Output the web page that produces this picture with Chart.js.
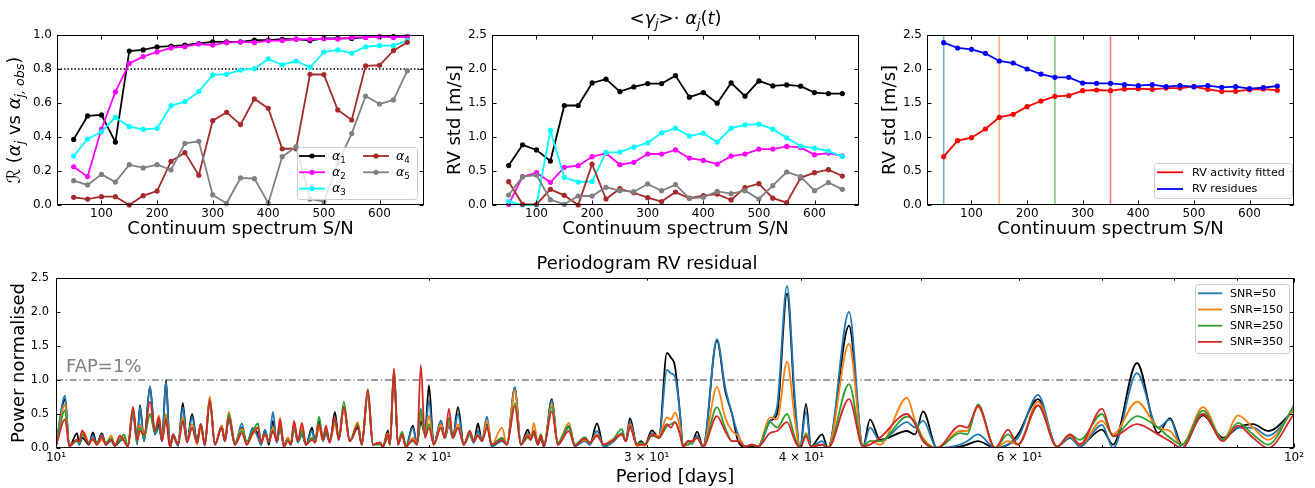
<!DOCTYPE html>
<html><head><meta charset="utf-8">
<script src="https://cdn.jsdelivr.net/npm/chart.js@4.4.1/dist/chart.umd.min.js"></script>
<style>
html,body{margin:0;padding:0;background:#fff;}
body{width:1315px;height:488px;position:relative;overflow:hidden;}
canvas{position:absolute;}
</style></head><body>
<canvas id="c1" width="440" height="250" style="left:0;top:0"></canvas>
<canvas id="c2" width="440" height="250" style="left:440px;top:0"></canvas>
<canvas id="c3" width="440" height="250" style="left:875px;top:0"></canvas>
<canvas id="c4" width="1315" height="238" style="left:0;top:250px"></canvas>
<script>
// ---------------- data ----------------
const snr = [50,75,100,125,150,175,200,225,250,275,300,325,350,375,400,425,450,475,500,525,550,575,600,625,650];
const snTicks = [100,200,300,400,500,600];
const corrTicks = [0,0.2,0.4,0.6,0.8,1.0];
const rvTicks = [0,0.5,1.0,1.5,2.0,2.5];
const corrThreshold = 0.8;

const corrAlpha1 = [0.386,0.524,0.53,0.37,0.906,0.912,0.93,0.935,0.94,0.95,0.96,0.96,0.96,0.97,0.97,0.975,0.976,0.967,0.98,0.98,0.98,0.986,0.99,0.99,0.99];
const corrAlpha2 = [0.225,0.167,0.447,0.665,0.833,0.873,0.9,0.924,0.931,0.947,0.941,0.955,0.96,0.955,0.967,0.967,0.975,0.975,0.978,0.976,0.986,0.986,0.99,0.986,0.99];
const corrAlpha3 = [0.288,0.388,0.431,0.516,0.461,0.445,0.451,0.584,0.608,0.667,0.765,0.769,0.794,0.802,0.859,0.825,0.847,0.81,0.9,0.912,0.892,0.931,0.937,0.937,0.967];
const corrAlpha4 = [0.045,0.035,0.049,0.049,0.0,0.055,0.082,0.257,0.308,0.175,0.496,0.545,0.473,0.624,0.569,0.331,0.331,0.769,0.767,0.559,0.5,0.818,0.822,0.908,0.957];
const corrAlpha5 = [0.143,0.118,0.18,0.135,0.237,0.218,0.237,0.206,0.363,0.375,0.059,0.01,0.159,0.155,0.01,0.284,0.343,0.035,0.02,0.245,0.42,0.641,0.594,0.618,0.79];

const stdAlpha1 = [0.58,0.885,0.81,0.646,1.463,1.463,1.795,1.85,1.668,1.737,1.786,1.786,1.903,1.585,1.654,1.497,1.795,1.6,1.825,1.751,1.766,1.747,1.654,1.639,1.639];
const stdAlpha2 = [0.01,0.417,0.475,0.333,0.554,0.578,0.71,0.76,0.593,0.627,0.75,0.75,0.81,0.69,0.656,0.602,0.719,0.749,0.822,0.822,0.861,0.846,0.739,0.763,0.724];
const stdAlpha3 = [0.054,0.0,0.0,1.096,0.406,0.338,0.347,0.773,0.778,0.851,0.915,1.062,1.13,1.013,1.057,0.925,1.13,1.179,1.189,1.115,0.988,0.866,0.837,0.793,0.714];
const stdAlpha4 = [0.343,0.01,0.01,0.23,0.142,0.0,0.6,0.088,0.24,0.18,0.108,0.05,0.19,0.1,0.137,0.16,0.074,0.255,0.314,0.1,0.034,0.4,0.475,0.52,0.426];
const stdAlpha5 = [0.147,0.417,0.44,0.078,0.01,0.132,0.132,0.26,0.21,0.196,0.31,0.21,0.3,0.098,0.113,0.2,0.167,0.21,0.088,0.284,0.485,0.417,0.21,0.33,0.23];

const rvActivityFitted = [0.711,0.946,0.99,1.118,1.289,1.333,1.446,1.529,1.598,1.608,1.681,1.691,1.681,1.706,1.711,1.701,1.72,1.72,1.74,1.701,1.672,1.672,1.696,1.706,1.686];
const rvResidues = [2.387,2.309,2.289,2.23,2.118,2.088,2.0,1.926,1.877,1.877,1.794,1.789,1.789,1.77,1.755,1.77,1.74,1.755,1.74,1.755,1.73,1.74,1.711,1.725,1.75];
const snrMarkers = [50,150,250,350];
const rvAxisMax = 2.5;

const periodTicks = [10,20,30,40,50,60,70,80,90,100];
const periodTickLabels = {10:'10\u00b9',20:'2 \u00d7 10\u00b9',30:'3 \u00d7 10\u00b9',40:'4 \u00d7 10\u00b9',60:'6 \u00d7 10\u00b9',100:'10\u00b2'};
const fapLevel = 1.0;

const periods = [10.00,10.17,10.25,10.40,10.44,10.50,10.55,10.63,10.71,10.79,
10.89,10.97,11.08,11.16,11.26,11.35,11.43,11.54,11.63,11.69,
11.78,11.91,12.02,12.11,12.18,12.27,12.36,12.43,12.55,12.66,
12.76,12.88,13.00,13.09,13.19,13.31,13.44,13.61,13.69,13.79,
13.95,14.13,14.26,14.42,14.56,14.64,14.75,14.86,14.97,15.08,
15.17,15.28,15.39,15.48,15.57,15.68,15.80,15.92,16.10,16.19,
16.31,16.43,16.52,16.64,16.80,16.92,17.08,17.27,17.53,17.66,
17.86,18.03,18.27,18.37,18.54,18.61,18.75,18.89,19.03,19.17,
19.42,19.57,19.71,19.86,20.01,20.19,20.46,20.61,20.77,20.92,
21.12,21.35,21.59,21.75,21.92,22.08,22.29,22.49,22.92,23.13,
23.48,23.74,24.05,24.19,24.32,24.50,24.64,24.78,25.15,25.43,
25.96,26.25,26.74,26.99,27.35,27.70,28.12,28.65,28.86,29.08,
29.46,29.68,29.90,30.29,30.69,31.15,31.38,31.62,31.92,32.10,
32.40,32.64,32.95,33.32,34.19,34.71,35.16,35.56,36.02,36.49,
36.90,37.74,38.23,38.95,39.53,39.90,40.35,40.73,41.57,42.03,
43.71,44.86,45.45,46.31,48.69,49.42,50.16,51.48,53.74,54.44,
55.56,57.35,58.75,59.85,62.12,64.35,65.93,67.16,69.97,71.42,
74.67,77.65,79.40,81.20,84.43,87.63,90.11,92.66,95.28,100.0];

const powerReference = [0.03,0.72,0.02,0.22,0.05,0.15,0.12,0.05,0.23,0.06,
0.22,0.05,0.12,0.03,0.1,0.15,0.02,0.55,0.08,0.63,
0.1,0.9,0.2,0.35,0.1,1.0,0.0,0.2,0.05,0.66,
0.1,0.5,0.1,0.35,0.05,0.72,0.05,0.33,0.1,0.45,
0.05,0.3,0.05,0.28,0.2,0.05,0.26,0.05,0.4,0.08,
0.35,0.02,0.15,0.05,0.35,0.1,0.2,0.05,0.3,0.08,
0.4,0.12,0.25,0.08,0.53,0.12,0.6,0.1,0.3,0.05,
0.8,0.05,0.08,0.02,0.26,0.05,1.1,0.05,0.2,0.02,
0.33,0.05,0.4,0.2,0.92,0.05,0.4,0.15,0.35,0.15,
0.6,0.05,0.2,0.08,0.36,0.1,0.35,0.02,0.15,0.05,
0.89,0.05,0.27,0.15,0.25,0.05,0.15,0.02,0.72,0.05,
0.32,0.03,0.12,0.05,0.36,0.02,0.08,0.2,0.1,0.44,
0.05,0.1,0.05,0.26,0.15,1.4,1.33,1.2,0.5,0.02,
0.1,0.08,0.24,0.02,1.58,0.85,0.5,0.1,0.02,0.03,
0.0,0.4,0.5,2.27,0.6,0.0,0.65,0.02,0.2,0.0,
1.8,0.02,0.42,0.12,0.25,0.2,0.54,0.0,0.02,0.05,
0.1,0.0,0.05,0.2,0.72,0.02,0.15,0.05,0.27,0.05,
1.25,0.22,0.44,0.05,0.48,0.15,0.3,0.35,0.25,0.55];

const powerSnr50 = [0.03,0.77,0.02,0.12,0.05,0.2,0.15,0.08,0.18,0.05,
0.2,0.05,0.1,0.03,0.12,0.12,0.02,0.5,0.05,0.6,
0.1,0.91,0.2,0.3,0.1,0.98,0.0,0.18,0.03,0.6,
0.1,0.45,0.1,0.33,0.03,0.74,0.05,0.3,0.1,0.42,
0.05,0.36,0.05,0.3,0.15,0.05,0.27,0.08,0.53,0.08,
0.3,0.02,0.12,0.05,0.3,0.08,0.2,0.05,0.25,0.1,
0.35,0.1,0.2,0.1,0.45,0.12,0.6,0.1,0.35,0.05,
0.8,0.05,0.08,0.02,0.2,0.05,1.1,0.05,0.22,0.02,
0.3,0.05,0.58,0.2,0.7,0.05,0.4,0.15,0.35,0.15,
0.5,0.05,0.2,0.08,0.25,0.12,0.46,0.02,0.1,0.05,
0.89,0.05,0.22,0.15,0.2,0.05,0.18,0.02,0.7,0.05,
0.3,0.03,0.1,0.05,0.25,0.02,0.08,0.22,0.1,0.38,
0.05,0.08,0.05,0.22,0.15,1.15,1.1,1.05,0.5,0.02,
0.1,0.06,0.18,0.02,1.6,0.9,0.5,0.2,0.02,0.05,
0.02,0.4,0.6,2.38,0.7,0.0,0.53,0.02,0.1,0.0,
2.0,0.02,0.3,0.1,0.38,0.3,0.4,0.0,0.05,0.1,
0.2,0.0,0.05,0.15,0.78,0.02,0.15,0.02,0.34,0.0,
1.1,0.3,0.42,0.0,0.5,0.12,0.3,0.3,0.18,0.56];

const powerSnr150 = [0.03,0.64,0.03,0.12,0.08,0.24,0.22,0.08,0.12,0.05,
0.12,0.06,0.18,0.05,0.15,0.14,0.03,0.6,0.1,0.35,
0.2,0.5,0.25,0.48,0.15,0.5,0.02,0.15,0.08,0.45,
0.1,0.35,0.05,0.3,0.05,0.76,0.05,0.33,0.12,0.53,
0.08,0.28,0.08,0.2,0.3,0.08,0.2,0.1,0.3,0.1,
0.45,0.03,0.15,0.08,0.38,0.1,0.3,0.05,0.15,0.1,
0.3,0.12,0.3,0.1,0.35,0.15,0.55,0.1,0.38,0.05,
0.82,0.05,0.08,0.03,0.22,0.05,1.14,0.05,0.2,0.02,
0.15,0.08,0.5,0.2,0.48,0.05,0.35,0.15,0.4,0.15,
0.35,0.05,0.25,0.1,0.2,0.1,0.4,0.05,0.3,0.05,
0.85,0.05,0.2,0.15,0.37,0.08,0.2,0.05,0.65,0.08,
0.37,0.05,0.12,0.08,0.2,0.05,0.12,0.2,0.1,0.35,
0.02,0.05,0.03,0.2,0.18,0.45,0.42,0.52,0.3,0.02,
0.05,0.08,0.15,0.02,0.9,0.45,0.25,0.18,0.02,0.05,
0.02,0.45,0.42,1.27,0.4,0.0,0.22,0.02,0.05,0.0,
1.53,0.02,0.1,0.05,0.74,0.4,0.15,0.0,0.25,0.25,
0.6,0.0,0.1,0.05,0.68,0.02,0.18,0.05,0.4,0.2,
0.68,0.3,0.25,0.05,0.6,0.12,0.48,0.3,0.12,0.58];

const powerSnr250 = [0.05,0.55,0.05,0.1,0.08,0.2,0.15,0.08,0.12,0.08,
0.15,0.08,0.14,0.05,0.12,0.2,0.03,0.55,0.1,0.3,
0.15,0.5,0.22,0.4,0.12,0.45,0.02,0.15,0.08,0.4,
0.1,0.3,0.08,0.35,0.05,0.7,0.05,0.3,0.1,0.5,
0.08,0.25,0.1,0.25,0.36,0.08,0.2,0.1,0.25,0.12,
0.3,0.05,0.12,0.05,0.3,0.1,0.25,0.05,0.15,0.1,
0.46,0.15,0.25,0.1,0.4,0.15,0.68,0.1,0.35,0.05,
0.86,0.05,0.05,0.03,0.15,0.05,1.16,0.05,0.24,0.05,
0.1,0.05,0.55,0.2,0.35,0.05,0.3,0.15,0.45,0.15,
0.3,0.05,0.22,0.1,0.2,0.1,0.3,0.05,0.15,0.05,
0.66,0.05,0.15,0.12,0.25,0.08,0.2,0.05,0.6,0.08,
0.33,0.05,0.16,0.08,0.18,0.05,0.1,0.28,0.1,0.3,
0.05,0.08,0.05,0.18,0.15,0.32,0.35,0.38,0.2,0.05,
0.05,0.1,0.15,0.02,0.6,0.3,0.1,0.1,0.02,0.05,
0.02,0.38,0.3,0.5,0.15,0.0,0.2,0.02,0.05,0.0,
0.94,0.02,0.1,0.1,0.46,0.38,0.12,0.0,0.22,0.2,
0.64,0.0,0.2,0.05,0.62,0.02,0.2,0.12,0.5,0.17,
0.47,0.3,0.15,0.05,0.55,0.12,0.37,0.2,0.05,0.63];

const powerSnr350 = [0.03,0.42,0.03,0.12,0.1,0.26,0.18,0.06,0.14,0.05,
0.18,0.05,0.12,0.03,0.18,0.1,0.02,0.6,0.12,0.25,
0.2,0.68,0.25,0.45,0.1,0.42,0.02,0.2,0.05,0.4,
0.08,0.3,0.08,0.35,0.05,0.7,0.05,0.3,0.1,0.45,
0.05,0.22,0.05,0.22,0.3,0.08,0.2,0.1,0.25,0.1,
0.42,0.02,0.1,0.05,0.4,0.1,0.37,0.05,0.12,0.08,
0.35,0.12,0.33,0.08,0.45,0.12,0.6,0.1,0.33,0.05,
0.86,0.05,0.08,0.02,0.2,0.05,1.17,0.05,0.2,0.02,
0.12,0.05,1.22,0.15,0.3,0.05,0.3,0.15,0.58,0.15,
0.3,0.05,0.25,0.1,0.18,0.1,0.3,0.05,0.12,0.05,
0.62,0.05,0.18,0.12,0.25,0.05,0.18,0.03,0.54,0.05,
0.25,0.03,0.14,0.08,0.18,0.05,0.1,0.2,0.1,0.32,
0.05,0.05,0.05,0.2,0.15,0.35,0.3,0.38,0.2,0.02,
0.1,0.1,0.15,0.02,0.47,0.25,0.1,0.1,0.02,0.05,
0.02,0.22,0.25,0.38,0.1,0.0,0.17,0.02,0.05,0.0,
0.72,0.02,0.05,0.15,0.5,0.35,0.1,0.0,0.33,0.3,
0.62,0.0,0.27,0.05,0.63,0.02,0.2,0.05,0.58,0.17,
0.35,0.2,0.1,0.0,0.5,0.1,0.33,0.15,0.0,0.5];

// ---------------- helpers ----------------
const FAM = '"DejaVu Sans", sans-serif';
Chart.defaults.font.family = FAM;
Chart.defaults.color = '#000';
Chart.defaults.animation = false;

function segFont(s, size) {
  const sz = s.sub ? size * 0.7 : size;
  return (s.it ? 'italic ' : '') + sz + 'px ' + (s.fam || FAM);
}
function drawRich(ctx, segs, x, y, size, align) {
  ctx.textBaseline = 'alphabetic';
  ctx.textAlign = 'left';
  const ws = segs.map(s => { ctx.font = segFont(s, size); return ctx.measureText(s.t).width; });
  const total = ws.reduce((a, b) => a + b, 0);
  let cx = align === 'center' ? x - total / 2 : x;
  segs.forEach((s, i) => {
    ctx.font = segFont(s, size);
    ctx.fillText(s.t, cx, y + (s.sub ? size * 0.22 : 0));
    cx += ws[i];
  });
}

const mplFrame = {
  id: 'mplFrame',
  afterDatasetsDraw(chart, args, o) {
    const {ctx, chartArea: a} = chart;
    const xs = chart.scales.x, ys = chart.scales.y;
    ctx.save();
    ctx.strokeStyle = '#000';
    ctx.lineWidth = 1;
    ctx.beginPath();
    const L = Math.round(a.left) + 0.5, R = Math.round(a.right) - 0.5, T = Math.round(a.top) + 0.5, B = Math.round(a.bottom) - 0.5;
    const len = o.tickLen || 4;
    const minor = o.minorX || [];
    xs.ticks.forEach(t => {
      const p = Math.round(xs.getPixelForValue(t.value)) + 0.5;
      const l = minor.includes(t.value) ? len * 0.55 : len;
      ctx.moveTo(p, B); ctx.lineTo(p, B - l);
      ctx.moveTo(p, T); ctx.lineTo(p, T + l);
    });
    ys.ticks.forEach(t => {
      const p = Math.round(ys.getPixelForValue(t.value)) + 0.5;
      ctx.moveTo(L, p); ctx.lineTo(L + len, p);
      ctx.moveTo(R, p); ctx.lineTo(R - len, p);
    });
    ctx.stroke();
    ctx.strokeRect(L, T, R - L, B - T);
    ctx.restore();
  }
};

function roundRectPath(ctx, x, y, w, h, r) {
  ctx.beginPath();
  ctx.moveTo(x + r, y); ctx.lineTo(x + w - r, y); ctx.quadraticCurveTo(x + w, y, x + w, y + r);
  ctx.lineTo(x + w, y + h - r); ctx.quadraticCurveTo(x + w, y + h, x + w - r, y + h);
  ctx.lineTo(x + r, y + h); ctx.quadraticCurveTo(x, y + h, x, y + h - r);
  ctx.lineTo(x, y + r); ctx.quadraticCurveTo(x, y, x + r, y); ctx.closePath();
}

const mplLegend = {
  id: 'mplLegend',
  afterDraw(chart, args, o) {
    if (!o || !o.box) return;
    const ctx = chart.ctx;
    const items = chart.data.datasets.filter(d => d.inLegend);
    ctx.save();
    roundRectPath(ctx, o.box.x + 0.5, o.box.y + 0.5, o.box.w, o.box.h, 3);
    ctx.fillStyle = 'rgba(255,255,255,0.8)'; ctx.fill();
    ctx.strokeStyle = '#cccccc'; ctx.lineWidth = 1; ctx.stroke();
    items.forEach((d, i) => {
      const col = Math.floor(i / o.rows), row = i % o.rows;
      const x0 = o.x0 + col * (o.colGap || 0), y = o.y0 + row * o.rowGap;
      ctx.strokeStyle = d.borderColor; ctx.lineWidth = d.borderWidth;
      ctx.beginPath(); ctx.moveTo(x0, y); ctx.lineTo(x0 + o.lineLen, y); ctx.stroke();
      if (o.marker) {
        ctx.fillStyle = d.borderColor; ctx.beginPath();
        ctx.arc(x0 + o.lineLen / 2, y, d.pointRadius, 0, Math.PI * 2); ctx.fill();
      }
      ctx.fillStyle = '#000';
      const tx = x0 + o.lineLen + o.textGap;
      if (o.rich) {
        drawRich(ctx, [{t: d.label.slice(0, 1), it: true}, {t: d.label.slice(1), sub: true}], tx, y + o.size * 0.3, o.size, 'left');
      } else {
        ctx.font = o.size + 'px ' + FAM; ctx.textBaseline = 'middle'; ctx.textAlign = 'left';
        ctx.fillText(d.label, tx, y + 0.5);
      }
    });
    ctx.restore();
  }
};

const richText = {
  id: 'richText',
  afterDraw(chart, args, o) {
    if (!o || !o.items) return;
    const ctx = chart.ctx, a = chart.chartArea;
    o.items.forEach(it => {
      ctx.save();
      ctx.fillStyle = it.color || '#000';
      const x = it.x(a, chart), y = it.y(a, chart);
      ctx.translate(x, y);
      if (it.rotate) ctx.rotate(it.rotate);
      drawRich(ctx, it.segs, 0, 0, it.size, it.align);
      ctx.restore();
    });
  }
};

function linScale(opt) {
  return {
    type: opt.type || 'linear', min: opt.min, max: opt.max,
    afterBuildTicks: s => { s.ticks = opt.ticks.map(v => ({value: v})); },
    afterFit: s => { if (opt.isX) s.height = opt.fit; else s.width = opt.fit; },
    grid: {display: false, drawTicks: false}, border: {display: false},
    ticks: {autoSkip: false, maxRotation: 0, minRotation: 0, padding: opt.tickPad, font: {size: opt.tickFont}, color: '#000', callback: opt.fmt},
    title: opt.title ? {display: true, text: opt.title, font: {size: 18}, color: '#000', padding: opt.titlePad} : {display: false}
  };
}

function seriesDS(label, xs, ys, color, order, extra) {
  return Object.assign({
    label, data: xs.map((x, i) => ({x, y: ys[i]})), borderColor: color, backgroundColor: color,
    pointBackgroundColor: color, pointBorderWidth: 0, pointRadius: 2.6, borderWidth: 1.8,
    tension: 0, order, inLegend: true, clip: 4
  }, extra || {});
}

const commonPlugins = {legend: {display: false}, tooltip: {enabled: false}};
const snFmt = v => String(v);
const oneDec = v => Number(v).toFixed(1);

// ---------------- panel 1 ----------------
new Chart(document.getElementById('c1'), {
  type: 'line',
  data: {datasets: [
    seriesDS('α1', snr, corrAlpha1, '#000000', 5),
    seriesDS('α2', snr, corrAlpha2, '#ff00ff', 4),
    seriesDS('α3', snr, corrAlpha3, '#00ffff', 3),
    seriesDS('α4', snr, corrAlpha4, '#a52a2a', 2),
    seriesDS('α5', snr, corrAlpha5, '#808080', 1),
    {label: 'threshold', data: [{x: 20, y: corrThreshold}, {x: 680, y: corrThreshold}], borderColor: '#000', borderWidth: 1.5,
     borderDash: [1.5, 2], pointRadius: 0, order: 6, inLegend: false}
  ]},
  options: {
    responsive: false, animation: false,
    layout: {padding: {left: 0, top: 35, right: 16, bottom: 0}},
    scales: {
      x: linScale({min: 20, max: 680, ticks: snTicks, fmt: snFmt, isX: true, fit: 45, tickPad: 2, tickFont: 12, title: 'Continuum spectrum S/N', titlePad: {top: 0, bottom: 10}}),
      y: linScale({min: 0, max: 1.0, ticks: corrTicks, fmt: oneDec, isX: false, fit: 57, tickPad: 5, tickFont: 12})
    },
    plugins: Object.assign({}, commonPlugins, {
      mplFrame: {tickLen: 4},
      mplLegend: {box: {x: 297, y: 147, w: 120, h: 52}, rows: 3, x0: 299, y0: 156, rowGap: 16.3, colGap: 64, lineLen: 26, textGap: 7, size: 12.5, marker: true, rich: true},
      richText: {items: [{
        x: a => 20, y: a => (a.top + a.bottom) / 2 , rotate: -Math.PI / 2, size: 18, align: 'center',
        segs: [{t: 'ℛ', it: true}, {t: ' ('}, {t: 'α', it: true}, {t: 'j', it: true, sub: true}, {t: ' vs '}, {t: 'α', it: true}, {t: 'j, obs', it: true, sub: true}, {t: ')'}]
      }]}
    })
  },
  plugins: [mplFrame, mplLegend, richText]
});

// ---------------- panel 2 ----------------
new Chart(document.getElementById('c2'), {
  type: 'line',
  data: {datasets: [
    seriesDS('α1', snr, stdAlpha1, '#000000', 5),
    seriesDS('α2', snr, stdAlpha2, '#ff00ff', 4),
    seriesDS('α3', snr, stdAlpha3, '#00ffff', 3),
    seriesDS('α4', snr, stdAlpha4, '#a52a2a', 2),
    seriesDS('α5', snr, stdAlpha5, '#808080', 1)
  ]},
  options: {
    responsive: false, animation: false,
    layout: {padding: {left: 0, top: 35, right: 21, bottom: 0}},
    scales: {
      x: linScale({min: 20, max: 680, ticks: snTicks, fmt: snFmt, isX: true, fit: 45, tickPad: 2, tickFont: 12, title: 'Continuum spectrum S/N', titlePad: {top: 0, bottom: 10}}),
      y: linScale({min: 0, max: rvAxisMax, ticks: rvTicks, fmt: oneDec, isX: false, fit: 52, tickPad: 5, tickFont: 12, title: 'RV std [m/s]', titlePad: {top: 5, bottom: 0}})
    },
    plugins: Object.assign({}, commonPlugins, {
      mplFrame: {tickLen: 4},
      richText: {items: [{
        x: a => (a.left + a.right) / 2, y: a => 24, size: 18, align: 'center',
        segs: [{t: '<'}, {t: 'γ', it: true}, {t: 'j', it: true, sub: true}, {t: '>· '}, {t: 'α', it: true}, {t: 'j', it: true, sub: true}, {t: '('}, {t: 't', it: true}, {t: ')'}]
      }]}
    })
  },
  plugins: [mplFrame, richText]
});

// ---------------- panel 3 ----------------
const markerColors = ['#1f77b4', '#ff7f0e', '#2ca02c', '#d62728'];
new Chart(document.getElementById('c3'), {
  type: 'line',
  data: {datasets: [
    seriesDS('RV activity fitted', snr, rvActivityFitted, '#ff0000', 2),
    seriesDS('RV residues', snr, rvResidues, '#0000ff', 1)
  ].concat(snrMarkers.map((s, i) => ({
    label: 'SNR=' + s, data: [{x: s, y: 0}, {x: s, y: rvAxisMax}], borderColor: markerColors[i] + '99',
    borderWidth: 1.6, pointRadius: 0, order: 10, inLegend: false
  })))},
  options: {
    responsive: false, animation: false,
    layout: {padding: {left: 0, top: 35, right: 21, bottom: 0}},
    scales: {
      x: linScale({min: 20, max: 680, ticks: snTicks, fmt: snFmt, isX: true, fit: 45, tickPad: 2, tickFont: 12, title: 'Continuum spectrum S/N', titlePad: {top: 0, bottom: 10}}),
      y: linScale({min: 0, max: rvAxisMax, ticks: rvTicks, fmt: oneDec, isX: false, fit: 52, tickPad: 5, tickFont: 12, title: 'RV std [m/s]', titlePad: {top: 5, bottom: 0}})
    },
    plugins: Object.assign({}, commonPlugins, {
      mplFrame: {tickLen: 4},
      mplLegend: {box: {x: 279, y: 163, w: 138, h: 35}, rows: 2, x0: 282, y0: 172.3, rowGap: 16.7, lineLen: 26, textGap: 9, size: 11.2, marker: false, rich: false}
    })
  },
  plugins: [mplFrame, mplLegend]
});

// ---------------- periodogram ----------------
function pgDS(label, ys, color, order, inLegend) {
  return {
    label, data: periods.map((p, i) => ({x: p, y: ys[i]})), borderColor: color, borderWidth: 1.8,
    pointRadius: 0, cubicInterpolationMode: 'monotone', order, inLegend
  };
}
const fapLabel = {
  id: 'fapLabel',
  afterDraw(chart) {
    const {ctx, chartArea: a, scales} = chart;
    ctx.save();
    ctx.fillStyle = '#808080';
    ctx.font = '18px ' + FAM;
    ctx.textBaseline = 'alphabetic'; ctx.textAlign = 'left';
    ctx.fillText('FAP=1%', a.left + 10, scales.y.getPixelForValue(fapLevel) - 8);
    ctx.restore();
  }
};
new Chart(document.getElementById('c4'), {
  type: 'line',
  data: {datasets: [
    pgDS('reference', powerReference, '#000000', 6, false),
    pgDS('SNR=50', powerSnr50, '#1f77b4', 5, true),
    pgDS('SNR=150', powerSnr150, '#ff7f0e', 4, true),
    pgDS('SNR=250', powerSnr250, '#2ca02c', 3, true),
    pgDS('SNR=350', powerSnr350, '#d62728', 2, true),
    {label: 'FAP', data: [{x: 10, y: fapLevel}, {x: 100, y: fapLevel}], borderColor: '#808080', borderWidth: 1.5,
     borderDash: [7, 2.7, 1.3, 2.7], pointRadius: 0, order: 7, inLegend: false}
  ]},
  options: {
    responsive: false, animation: false,
    layout: {padding: {left: 0, top: 0, right: 21, bottom: 0}},
    scales: {
      x: linScale({type: 'logarithmic', min: 10, max: 100, ticks: periodTicks, fmt: v => periodTickLabels[v] || '', isX: true, fit: 40, tickPad: 3, tickFont: 12, title: 'Period [days]', titlePad: {top: 0, bottom: 0}}),
      y: linScale({min: 0, max: rvAxisMax, ticks: rvTicks, fmt: oneDec, isX: false, fit: 56, tickPad: 7, tickFont: 11.5, title: 'Power normalised', titlePad: {top: 9, bottom: 0}})
    },
    plugins: Object.assign({}, commonPlugins, {
      title: {display: true, text: 'Periodogram RV residual', font: {size: 18, weight: 'normal'}, color: '#000', padding: {top: 3.2, bottom: 3.2}},
      mplFrame: {tickLen: 4, minorX: [20, 30, 40, 50, 60, 70, 80, 90]},
      mplLegend: {box: {x: 1195, y: 34, w: 94, h: 69}, rows: 4, x0: 1198, y0: 43.3, rowGap: 16.2, lineLen: 24, textGap: 8, size: 11, marker: false, rich: false}
    })
  },
  plugins: [mplFrame, mplLegend, fapLabel]
});
</script>
</body></html>
